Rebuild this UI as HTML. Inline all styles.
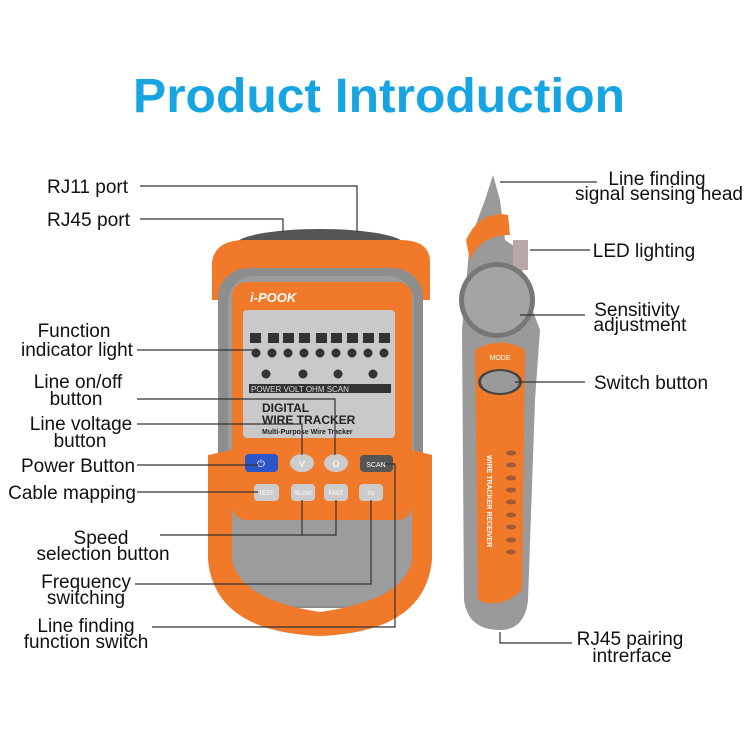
<!DOCTYPE html>
<html><head><meta charset="utf-8"><style>
html,body{margin:0;padding:0;background:#fff;}
svg{display:block;}
text{font-family:"Liberation Sans",sans-serif;}
</style></head><body>
<svg width="750" height="750" viewBox="0 0 750 750" xmlns="http://www.w3.org/2000/svg">
<rect width="750" height="750" fill="#fff"/>
<text x="379" y="112" text-anchor="middle" font-size="48" font-weight="bold" fill="#17a4e2" textLength="492" lengthAdjust="spacingAndGlyphs">Product Introduction</text>

<!-- main device -->
<ellipse cx="320" cy="245" rx="85" ry="16" fill="#555"/>
<path d="M212 262 Q215 240 245 240 L400 240 Q430 240 430 262 L430 300 L212 300 Z" fill="#f07a2a"/>
<rect x="218" y="268" width="205" height="340" rx="30" fill="#8d8d8d"/>
<rect x="228" y="276" width="186" height="330" rx="26" fill="#9c9c9c"/>
<rect x="232" y="282" width="180" height="238" rx="14" fill="#f07a2a"/>
<text x="250" y="302" font-size="13" font-style="italic" fill="#fff" font-weight="bold">i-POOK</text>
<rect x="243" y="310" width="152" height="128" rx="4" fill="#c9c9c9"/>
<g fill="#333">
<rect x="250" y="333" width="11" height="10"/><rect x="268" y="333" width="11" height="10"/><rect x="283" y="333" width="11" height="10"/><rect x="299" y="333" width="11" height="10"/><rect x="316" y="333" width="11" height="10"/><rect x="331" y="333" width="11" height="10"/><rect x="347" y="333" width="11" height="10"/><rect x="363" y="333" width="11" height="10"/><rect x="379" y="333" width="11" height="10"/>
<circle cx="256" cy="353" r="4.5"/><circle cx="272" cy="353" r="4.5"/><circle cx="288" cy="353" r="4.5"/><circle cx="304" cy="353" r="4.5"/><circle cx="320" cy="353" r="4.5"/><circle cx="336" cy="353" r="4.5"/><circle cx="352" cy="353" r="4.5"/><circle cx="368" cy="353" r="4.5"/><circle cx="384" cy="353" r="4.5"/>
<circle cx="266" cy="374" r="4.5"/><circle cx="303" cy="374" r="4.5"/><circle cx="338" cy="374" r="4.5"/><circle cx="373" cy="374" r="4.5"/>
<rect x="249" y="384" width="142" height="9"/>
</g>
<text x="251" y="392" font-size="8" fill="#ddd">POWER   VOLT    OHM    SCAN</text>
<text x="262" y="412" font-size="12" font-weight="bold" fill="#222">DIGITAL</text>
<text x="262" y="424" font-size="12" font-weight="bold" fill="#222">WIRE TRACKER</text>
<text x="262" y="434" font-size="7" font-weight="bold" fill="#222">Multi-Purpose Wire Tracker</text>
<path d="M208 455 L232 450 L232 560 Q240 600 320 612 Q405 600 412 560 L412 450 L432 455 L432 560 Q425 632 320 636 Q215 632 208 560 Z" fill="#f07a2a"/>
<rect x="245" y="454" width="33" height="18" rx="4" fill="#2b55c8"/>
<text x="261" y="467" font-size="10" fill="#fff" text-anchor="middle">⏻</text>
<ellipse cx="302" cy="463" rx="12" ry="9" fill="#ccc"/><text x="302" y="467" font-size="9" text-anchor="middle" fill="#fff">V</text>
<ellipse cx="336" cy="463" rx="12" ry="9" fill="#ccc"/><text x="336" y="467" font-size="9" text-anchor="middle" fill="#fff">Ω</text>
<rect x="360" y="455" width="33" height="17" rx="4" fill="#555"/><text x="376" y="467" font-size="7" text-anchor="middle" fill="#fff">SCAN</text>
<rect x="254" y="484" width="25" height="17" rx="4" fill="#ccc"/><rect x="291" y="484" width="24" height="17" rx="4" fill="#ccc"/><rect x="324" y="484" width="24" height="17" rx="4" fill="#ccc"/><rect x="359" y="484" width="24" height="17" rx="4" fill="#ccc"/>
<g font-size="6" fill="#fff" text-anchor="middle"><text x="266" y="495">TEST</text><text x="303" y="495">SLOW</text><text x="336" y="495">FAST</text><text x="371" y="495">Hz</text></g>

<!-- probe -->
<path d="M493 175 L500 200 L505 240 L520 250 L525 290 L540 330 L535 400 L528 600 Q525 630 500 630 Q468 630 464 600 L462 330 L470 240 L485 200 Z" fill="#9a9a9a"/>
<path d="M466 240 Q480 210 508 215 L510 235 Q480 235 470 260 Z" fill="#f07a2a"/>
<rect x="513" y="240" width="15" height="30" fill="#b9a8a8"/>
<circle cx="497" cy="300" r="38" fill="#777"/>
<circle cx="497" cy="300" r="33" fill="#a4a4a4"/>
<path d="M475 350 Q500 335 525 350 L522 590 Q500 610 478 600 Z" fill="#f07a2a"/>
<text x="500" y="360" font-size="7" text-anchor="middle" fill="#fff">MODE</text>
<ellipse cx="500" cy="382" rx="22" ry="13" fill="#444"/>
<ellipse cx="500" cy="382" rx="19" ry="11" fill="#999"/>
<g fill="#a05a35">
<ellipse cx="511" cy="453" rx="5" ry="2.5"/><ellipse cx="511" cy="465" rx="5" ry="2.5"/><ellipse cx="511" cy="478" rx="5" ry="2.5"/><ellipse cx="511" cy="490" rx="5" ry="2.5"/><ellipse cx="511" cy="502" rx="5" ry="2.5"/><ellipse cx="511" cy="515" rx="5" ry="2.5"/><ellipse cx="511" cy="527" rx="5" ry="2.5"/><ellipse cx="511" cy="540" rx="5" ry="2.5"/><ellipse cx="511" cy="552" rx="5" ry="2.5"/>
</g>
<text transform="translate(487,455) rotate(90)" font-size="7" font-weight="bold" fill="#fff">WIRE TRACKER RECEIVER</text>

<!-- connector lines -->
<g stroke="#333" stroke-width="1.2" fill="none">
<path d="M140 186 H357 V232"/>
<path d="M140 219 H283 V232"/>
<path d="M137 350 H253"/>
<path d="M137 399 H335 V455"/>
<path d="M137 424 H302 V455"/>
<path d="M137 465 H258"/>
<path d="M137 492 H258"/>
<path d="M160 535 H336 V500 M302 535 V500"/>
<path d="M135 584 H371 V500"/>
<path d="M152 627 H395 V464 H385"/>
<path d="M500 182 H597"/>
<path d="M530 250 H590"/>
<path d="M520 315 H585"/>
<path d="M515 382 H585"/>
<path d="M500 632 V643 H572"/>
</g>

<g font-size="19" fill="#111">
<text x="47" y="193" textLength="81" lengthAdjust="spacingAndGlyphs">RJ11 port</text>
<text x="47" y="226" textLength="83" lengthAdjust="spacingAndGlyphs">RJ45 port</text>
<text x="74" y="337" text-anchor="middle">Function</text>
<text x="77" y="356" text-anchor="middle">indicator light</text>
<text x="78" y="388" text-anchor="middle">Line on/off</text>
<text x="76" y="405" text-anchor="middle">button</text>
<text x="81" y="430" text-anchor="middle">Line voltage</text>
<text x="80" y="447" text-anchor="middle">button</text>
<text x="78" y="472" text-anchor="middle">Power Button</text>
<text x="72" y="499" text-anchor="middle">Cable mapping</text>
<text x="101" y="544" text-anchor="middle">Speed</text>
<text x="103" y="560" text-anchor="middle">selection button</text>
<text x="86" y="588" text-anchor="middle">Frequency</text>
<text x="86" y="604" text-anchor="middle">switching</text>
<text x="86" y="632" text-anchor="middle">Line finding</text>
<text x="86" y="648" text-anchor="middle">function switch</text>
<text x="657" y="185" text-anchor="middle">Line finding</text>
<text x="659" y="200" text-anchor="middle">signal sensing head</text>
<text x="644" y="257" text-anchor="middle">LED lighting</text>
<text x="637" y="316" text-anchor="middle">Sensitivity</text>
<text x="640" y="331" text-anchor="middle">adjustment</text>
<text x="651" y="389" text-anchor="middle">Switch button</text>
<text x="630" y="645" text-anchor="middle">RJ45 pairing</text>
<text x="632" y="662" text-anchor="middle">intrerface</text>
</g>
</svg>
</body></html>
